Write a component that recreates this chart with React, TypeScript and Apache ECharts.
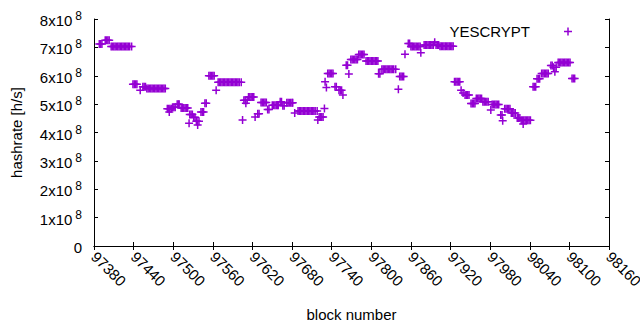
import React, { useEffect, useRef } from "react";
import * as echarts from "echarts";

// block numbers (x) and hashrate in units of 10^8 h/s (y)
const blockNumbers = [
  97388, 97390, 97392,
  97397, 97399, 97401, 97403,
  97406, 97408, 97410, 97412, 97414, 97416, 97418, 97420,
  97422, 97424, 97426, 97428, 97430, 97432, 97434, 97437,
  97439, 97441, 97443, 97445,
  97450, 97454, 97456, 97458,
  97460, 97462, 97464, 97466, 97468, 97470, 97472, 97474,
  97476, 97478, 97480, 97482, 97484, 97486, 97488,
  97491, 97493, 97494, 97495, 97497,
  97499, 97501, 97503, 97506, 97508, 97509,
  97512, 97514, 97516, 97518, 97520, 97522,
  97524, 97525, 97527, 97529, 97531, 97533,
  97535, 97536, 97537, 97539,
  97542, 97544, 97546, 97548, 97550,
  97554, 97556, 97558, 97560, 97562, 97565,
  97568, 97570, 97572, 97574, 97576, 97578, 97580, 97582, 97584,
  97586, 97588, 97590, 97592, 97594, 97596, 97598, 97600, 97603,
  97605, 97607, 97609, 97610, 97612,
  97614, 97616, 97618, 97620, 97622,
  97624, 97628, 97630,
  97633, 97635, 97637, 97639, 97641, 97643, 97645,
  97650, 97652, 97654, 97656, 97658, 97659,
  97662, 97664, 97666, 97668,
  97672, 97674, 97676, 97678, 97680, 97681, 97684,
  97689, 97691, 97693, 97695, 97697, 97699, 97701, 97703,
  97705, 97707, 97709, 97711, 97713, 97715, 97718,
  97719, 97721, 97723, 97725, 97727,
  97729, 97730, 97732,
  97734, 97736, 97738, 97740, 97742,
  97745, 97747, 97751, 97753, 97755, 97757,
  97762, 97764, 97766,
  97769, 97771, 97773, 97775, 97777, 97779,
  97781, 97783, 97785, 97787, 97789,
  97792, 97794, 97796, 97798, 97800, 97802, 97804, 97806, 97808, 97810,
  97811, 97813,
  97816, 97818, 97820, 97822, 97824, 97826, 97828, 97830, 97832, 97834, 97837,
  97841, 97843, 97845, 97847, 97849, 97851,
  97856, 97858,
  97860, 97862, 97864, 97866, 97868, 97870, 97872, 97874, 97875,
  97880, 97882, 97884, 97886, 97888, 97890, 97892, 97894, 97896, 97898, 97900, 97902,
  97904, 97906, 97908, 97910, 97912, 97914, 97916, 97918, 97920, 97922, 97924,
  97926, 97928, 97930, 97932, 97934,
  97936, 97939, 97942, 97944, 97946, 97948,
  97951, 97953, 97955, 97957,
  97959, 97961, 97963, 97965, 97967,
  97969, 97971, 97973, 97975, 97977, 97981,
  97983, 97985, 97987, 97989, 97991, 97993,
  97996, 97998, 97999,
  98002, 98004, 98006, 98008, 98010,
  98012, 98014, 98016, 98018,
  98021, 98023, 98025,
  98027, 98029, 98030, 98031, 98033, 98035, 98037, 98039, 98041,
  98045, 98047, 98049,
  98051, 98053, 98055,
  98058, 98060, 98062, 98064, 98066, 98068,
  98072, 98074, 98076, 98078, 98080,
  98083, 98085, 98087, 98089, 98091, 98093, 98095, 98097, 98099, 98101,
  98104, 98106, 98108,
];

const hashrateE8 = [
  7.12, 7.12, 7.12,
  7.25, 7.25, 7.25, 7.25,
  7.03, 7.03, 7.03, 7.03, 7.03, 7.03, 7.03, 7.03,
  7.03, 7.03, 7.03, 7.03, 7.03, 7.03, 7.03, 7.03,
  5.70, 5.70, 5.70, 5.70,
  5.49, 5.61, 5.61, 5.61,
  5.55, 5.55, 5.55, 5.55, 5.55, 5.55, 5.55, 5.55,
  5.55, 5.55, 5.55, 5.55, 5.55, 5.55, 5.55,
  4.84, 4.84, 4.72, 4.84, 4.84,
  4.89, 4.89, 4.89, 5.00, 5.00, 5.00,
  4.86, 4.86, 4.86, 4.86, 4.86, 4.86,
  4.33, 4.63, 4.63, 4.63, 4.54, 4.54,
  4.40, 4.40, 4.26, 4.40,
  4.72, 4.72, 4.72, 5.03, 5.03,
  6.00, 6.00, 6.00, 6.00, 6.00, 5.49,
  5.77, 5.77, 5.77, 5.77, 5.77, 5.77, 5.77, 5.77, 5.77,
  5.77, 5.77, 5.77, 5.77, 5.77, 5.77, 5.77, 5.77, 5.77,
  4.44, 5.14, 5.14, 5.03, 5.14,
  5.25, 5.25, 5.25, 5.25, 5.25,
  4.55, 4.66, 4.66,
  5.06, 5.06, 5.06, 5.06, 5.06, 4.81, 4.81,
  4.96, 4.96, 4.96, 4.96, 4.96, 4.96,
  5.08, 5.08, 4.94, 4.94,
  5.05, 5.05, 5.05, 5.05, 5.05, 5.05, 4.69,
  4.76, 4.76, 4.76, 4.76, 4.76, 4.76, 4.76, 4.76,
  4.76, 4.76, 4.76, 4.76, 4.76, 4.76, 4.76,
  4.44, 4.55, 4.55, 4.55, 4.55,
  4.85, 5.79, 5.59,
  6.08, 6.08, 6.08, 6.08, 6.08,
  5.61, 5.61, 5.49, 5.49, 5.49, 5.32,
  6.37, 6.37, 6.06,
  6.57, 6.57, 6.57, 6.57, 6.57, 6.57,
  6.75, 6.75, 6.75, 6.75, 6.75,
  6.52, 6.52, 6.52, 6.52, 6.52, 6.52, 6.52, 6.52, 6.52, 6.52,
  6.07, 6.07,
  6.23, 6.23, 6.23, 6.23, 6.23, 6.23, 6.23, 6.23, 6.23, 6.23, 6.23,
  5.52, 5.97, 5.97, 5.97, 5.97, 6.76,
  7.14, 7.14,
  7.03, 7.03, 7.03, 7.03, 7.03, 7.03, 7.03, 7.03, 6.81,
  7.08, 7.08, 7.08, 7.08, 7.08, 7.08, 7.08, 7.08, 7.18, 7.08, 7.08, 7.08,
  7.04, 7.04, 7.04, 7.04, 7.04, 7.04, 7.04, 7.04, 7.04, 7.04, 7.04,
  5.79, 5.79, 5.79, 5.79, 5.79,
  5.49, 5.39, 5.32, 5.32, 5.32, 5.32,
  5.02, 5.02, 5.02, 5.02,
  5.20, 5.20, 5.20, 5.20, 5.20,
  5.08, 5.08, 5.08, 5.08, 5.08, 4.79,
  4.99, 4.99, 4.99, 4.99, 4.99, 4.99,
  4.62, 4.62, 4.41,
  4.84, 4.84, 4.84, 4.84, 4.84,
  4.69, 4.69, 4.69, 4.69,
  4.51, 4.51, 4.51,
  4.43, 4.43, 4.30, 4.43, 4.43, 4.43, 4.43, 4.43, 4.43,
  5.61, 5.61, 5.61,
  5.89, 5.89, 5.89,
  6.08, 6.08, 6.08, 6.08, 6.08, 6.08,
  6.36, 6.36, 6.30, 6.14, 6.30,
  6.47, 6.47, 6.47, 6.47, 6.47, 6.47, 6.47, 6.47, 6.47, 6.47,
  5.90, 5.90, 5.90,
];

const seriesName = "YESCRYPT";
const xMin = 97380;
const xMax = 98160;
const xStep = 60;
const yMin = 0;
const yMax = 8e8;
const yStep = 1e8;

const FONT = "'Liberation Sans', Arial, sans-serif";
const PURPLE = "#9400d3";
const CROSS = "path://M-0.75,-4h1.5v8h-1.5zM-4,-0.75h8v1.5h-8z";

export default function App() {
  const ref = useRef<HTMLDivElement>(null);

  useEffect(() => {
    if (!ref.current) return;
    const chart = echarts.init(ref.current, undefined, { renderer: "svg" });
    const data = blockNumbers.map((b, i) => [b, hashrateE8[i] * 1e8]);

    const axisCommon = {
      axisLine: { show: true, lineStyle: { color: "#000", width: 1 } },
      axisTick: { show: true, inside: true, length: 4, lineStyle: { color: "#000" } },
      splitLine: { show: false },
    };

    chart.setOption({
      animation: false,
      backgroundColor: "#fff",
      textStyle: { fontFamily: FONT },
      grid: { left: 94, right: 31, top: 19, bottom: 84, containLabel: false, outerBoundsMode: "none" },
      legend: {
        data: [{ name: seriesName, icon: CROSS }],
        top: 24,
        right: 68,
        padding: 0,
        align: "right",
        itemWidth: 8,
        itemHeight: 8,
        itemGap: 0,
        selectedMode: false,
        textStyle: { fontSize: 15, color: "#000", fontFamily: FONT, padding: [0, 29, 0, 0] },
      },
      xAxis: [
        {
          type: "value",
          min: xMin,
          max: xMax,
          interval: xStep,
          position: "bottom",
          ...axisCommon,
          axisLabel: {
            rotate: -45,
            margin: 8,
            fontSize: 15,
            color: "#000",
            fontFamily: FONT,
            showMinLabel: true,
            showMaxLabel: true,
            formatter: (v: number) => String(v),
          },
          name: "block number",
          nameLocation: "middle",
          nameGap: 61,
          nameTextStyle: { fontSize: 15, color: "#000", fontFamily: FONT },
        },
        {
          type: "value",
          min: xMin,
          max: xMax,
          interval: xStep,
          position: "top",
          ...axisCommon,
          axisLabel: { show: false },
        },
      ],
      yAxis: [
        {
          type: "value",
          min: yMin,
          max: yMax,
          interval: yStep,
          position: "left",
          ...axisCommon,
          axisLabel: {
            margin: 12,
            color: "#000",
            fontSize: 15,
            fontFamily: FONT,
            formatter: (v: number) =>
              v === 0 ? "{m|0}" : `{m|${Math.round(v / 1e8)}x10}{e|8}`,
            rich: {
              m: { fontSize: 15, lineHeight: 18, verticalAlign: "bottom", color: "#000", fontFamily: FONT },
              e: { fontSize: 12, lineHeight: 12, verticalAlign: "top", color: "#000", fontFamily: FONT, padding: [0, 0, 0, 3] },
            },
          },
          name: "hashrate [h/s]",
          nameLocation: "middle",
          nameRotate: 90,
          nameGap: 70,
          nameTextStyle: { fontSize: 15, color: "#000", fontFamily: FONT },
        },
        {
          type: "value",
          min: yMin,
          max: yMax,
          interval: yStep,
          position: "right",
          ...axisCommon,
          axisLabel: { show: false },
        },
      ],
      series: [
        {
          name: seriesName,
          type: "scatter",
          xAxisIndex: 0,
          yAxisIndex: 0,
          symbol: CROSS,
          symbolSize: 8,
          itemStyle: { color: PURPLE, opacity: 1 },
          data,
        },
      ],
    });

    return () => chart.dispose();
  }, []);

  return <div ref={ref} style={{ width: 640, height: 330, position: "absolute", left: 0, top: 0 }} />;
}
